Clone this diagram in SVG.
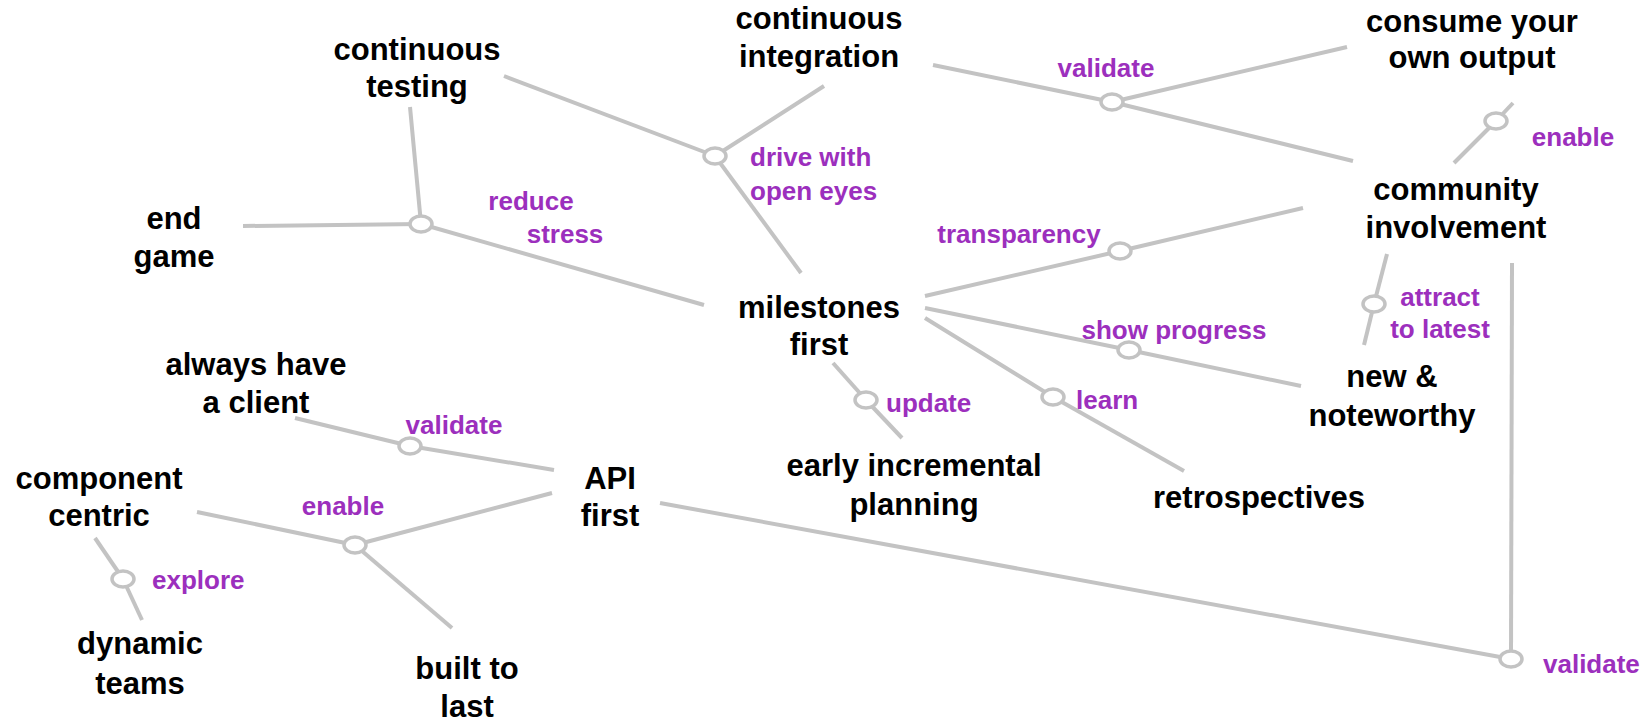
<svg xmlns="http://www.w3.org/2000/svg" width="1648" height="721" viewBox="0 0 1648 721">
<style>
.n{font-family:"Liberation Sans",Arial,sans-serif;font-weight:bold;font-size:31px;fill:#000;text-anchor:middle}
.l{font-family:"Liberation Sans",Arial,sans-serif;font-weight:bold;font-size:26px;fill:#9c2fbd}
.c{text-anchor:middle}
.e line{stroke:#c3c3c3;stroke-width:4;fill:none}
.j{fill:#fff;stroke:#c3c3c3;stroke-width:3.5}
</style>
<rect width="1648" height="721" fill="#fff"/>
<g id="connectors" class="e">
<line x1="504" y1="76" x2="715" y2="156"/>
<line x1="824" y1="86" x2="715" y2="156"/>
<line x1="715" y1="156" x2="801" y2="273"/>
<line x1="243" y1="226" x2="421" y2="224"/>
<line x1="410" y1="107" x2="421" y2="224"/>
<line x1="421" y1="224" x2="704" y2="305"/>
<line x1="933" y1="65" x2="1112" y2="102"/>
<line x1="1347" y1="47" x2="1112" y2="102"/>
<line x1="1112" y1="102" x2="1353" y2="161"/>
<line x1="1513" y1="103" x2="1496" y2="121"/>
<line x1="1496" y1="121" x2="1454" y2="163"/>
<line x1="925" y1="296" x2="1120" y2="251"/>
<line x1="1120" y1="251" x2="1303" y2="208"/>
<line x1="1387" y1="254" x2="1374" y2="304"/>
<line x1="1374" y1="304" x2="1364" y2="345"/>
<line x1="925" y1="308" x2="1129" y2="350"/>
<line x1="1129" y1="350" x2="1301" y2="386"/>
<line x1="925" y1="318" x2="1053" y2="397"/>
<line x1="1053" y1="397" x2="1184" y2="471"/>
<line x1="833" y1="363" x2="866" y2="400"/>
<line x1="866" y1="400" x2="902" y2="438"/>
<line x1="295" y1="418" x2="410" y2="446"/>
<line x1="410" y1="446" x2="554" y2="470"/>
<line x1="197" y1="512" x2="355" y2="545"/>
<line x1="552" y1="493" x2="355" y2="545"/>
<line x1="355" y1="545" x2="452" y2="628"/>
<line x1="95" y1="538" x2="123" y2="579"/>
<line x1="123" y1="579" x2="142" y2="620"/>
<line x1="660" y1="503" x2="1511" y2="659"/>
<line x1="1512" y1="263" x2="1511" y2="659"/>
</g>
<g id="junctions">
<ellipse class="j" cx="715" cy="156" rx="11" ry="8"/>
<ellipse class="j" cx="421" cy="224" rx="11" ry="8"/>
<ellipse class="j" cx="1112" cy="102" rx="11" ry="8"/>
<ellipse class="j" cx="1496" cy="121" rx="11" ry="8"/>
<ellipse class="j" cx="1120" cy="251" rx="11" ry="8"/>
<ellipse class="j" cx="1374" cy="304" rx="11" ry="8"/>
<ellipse class="j" cx="1129" cy="350" rx="11" ry="8"/>
<ellipse class="j" cx="1053" cy="397" rx="11" ry="8"/>
<ellipse class="j" cx="866" cy="400" rx="11" ry="8"/>
<ellipse class="j" cx="410" cy="446" rx="11" ry="8"/>
<ellipse class="j" cx="355" cy="545" rx="11" ry="8"/>
<ellipse class="j" cx="123" cy="579" rx="11" ry="8"/>
<ellipse class="j" cx="1511" cy="659" rx="11" ry="8"/>
</g>
<g id="labels">
<text class="l c" x="1106" y="77">validate</text>
<text class="l c" x="1573" y="146">enable</text>
<text class="l" x="750" y="166">drive with</text>
<text class="l" x="750" y="200">open eyes</text>
<text class="l c" x="531" y="210">reduce</text>
<text class="l c" x="565" y="243">stress</text>
<text class="l c" x="1019" y="243">transparency</text>
<text class="l c" x="1174" y="339">show progress</text>
<text class="l c" x="1440" y="306">attract</text>
<text class="l c" x="1440" y="338">to latest</text>
<text class="l" x="886" y="412">update</text>
<text class="l" x="1076" y="409">learn</text>
<text class="l c" x="454" y="434">validate</text>
<text class="l c" x="343" y="515">enable</text>
<text class="l" x="152" y="589">explore</text>
<text class="l" x="1543" y="673">validate</text>
</g>
<g id="n-continuous-testing"><text class="n" x="417" y="60">continuous</text><text class="n" x="417" y="97">testing</text></g>
<g id="n-continuous-integration"><text class="n" x="819" y="29">continuous</text><text class="n" x="819" y="67">integration</text></g>
<g id="n-consume"><text class="n" x="1472" y="32">consume your</text><text class="n" x="1472" y="68">own output</text></g>
<g id="n-end-game"><text class="n" x="174" y="229">end</text><text class="n" x="174" y="267">game</text></g>
<g id="n-community"><text class="n" x="1456" y="200">community</text><text class="n" x="1456" y="238">involvement</text></g>
<g id="n-milestones"><text class="n" x="819" y="318">milestones</text><text class="n" x="819" y="355">first</text></g>
<g id="n-always"><text class="n" x="256" y="375">always have</text><text class="n" x="256" y="413">a client</text></g>
<g id="n-new"><text class="n" x="1392" y="387">new &amp;</text><text class="n" x="1392" y="426">noteworthy</text></g>
<g id="n-api"><text class="n" x="610" y="489">API</text><text class="n" x="610" y="526">first</text></g>
<g id="n-early"><text class="n" x="914" y="476">early incremental</text><text class="n" x="914" y="515">planning</text></g>
<g id="n-retro"><text class="n" x="1259" y="508">retrospectives</text></g>
<g id="n-component"><text class="n" x="99" y="489">component</text><text class="n" x="99" y="526">centric</text></g>
<g id="n-dynamic"><text class="n" x="140" y="654">dynamic</text><text class="n" x="140" y="694">teams</text></g>
<g id="n-built"><text class="n" x="467" y="679">built to</text><text class="n" x="467" y="717">last</text></g>
</svg>
